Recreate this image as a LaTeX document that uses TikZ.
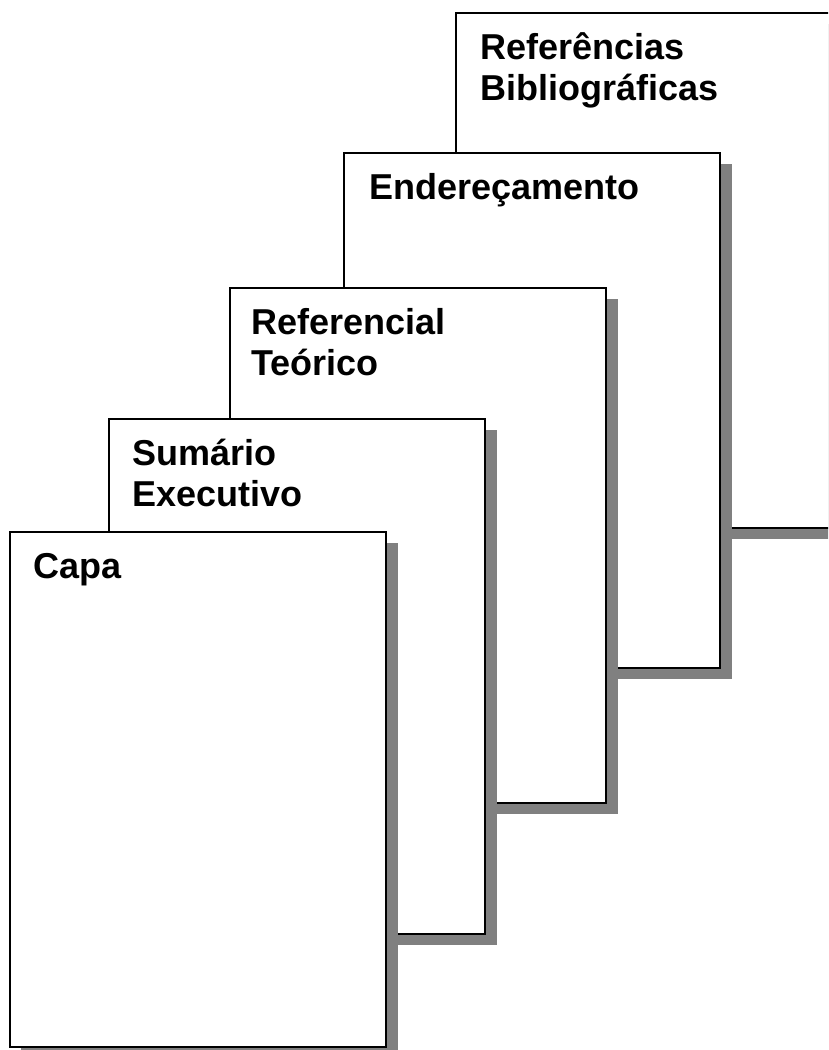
\documentclass[tikz,border=0pt]{standalone}
\usepackage{fontspec}
\setmainfont{Liberation Sans}
\definecolor{shadowgray}{HTML}{808080}
\newcommand\mkpage[3]{%
  \fill[shadowgray] (#2+11,#3+11) rectangle ++(377,515);
  \node[pagebox, anchor=north west] (#1) at (#2,#3) {};
}
\begin{document}
\begin{tikzpicture}[x=1pt,y=-1pt,
  pagebox/.style={draw=black, line width=2.2pt, fill=white, minimum width=376pt, minimum height=515pt, inner sep=0pt, outer sep=0pt},
  lbl/.style={anchor=base west, inner sep=0pt, font=\fontsize{36}{41}\selectfont\bfseries}]
\useasboundingbox (0,0) rectangle (828,1050);
\clip (0,0) rectangle (828,1050);
\mkpage{p5}{456}{13}
\node[lbl] (t5a) at ([xshift=24pt, yshift=-46pt] p5.north west) {Referências};
\node[lbl] (t5b) at ([xshift=24pt, yshift=-87pt] p5.north west) {Bibliográficas};
\mkpage{p4}{344}{153}
\node[lbl] (t4a) at ([xshift=25pt, yshift=-46pt] p4.north west) {Endereçamento};
\mkpage{p3}{230}{288}
\node[lbl] (t3a) at ([xshift=21pt, yshift=-46pt] p3.north west) {Referencial};
\node[lbl] (t3b) at ([xshift=21pt, yshift=-87pt] p3.north west) {Teórico};
\mkpage{p2}{109}{419}
\node[lbl] (t2a) at ([xshift=23pt, yshift=-46pt] p2.north west) {Sumário};
\node[lbl] (t2b) at ([xshift=23pt, yshift=-87pt] p2.north west) {Executivo};
\mkpage{p1}{10}{532}
\node[lbl] (t1a) at ([xshift=23pt, yshift=-46pt] p1.north west) {Capa};
\end{tikzpicture}
\end{document}
